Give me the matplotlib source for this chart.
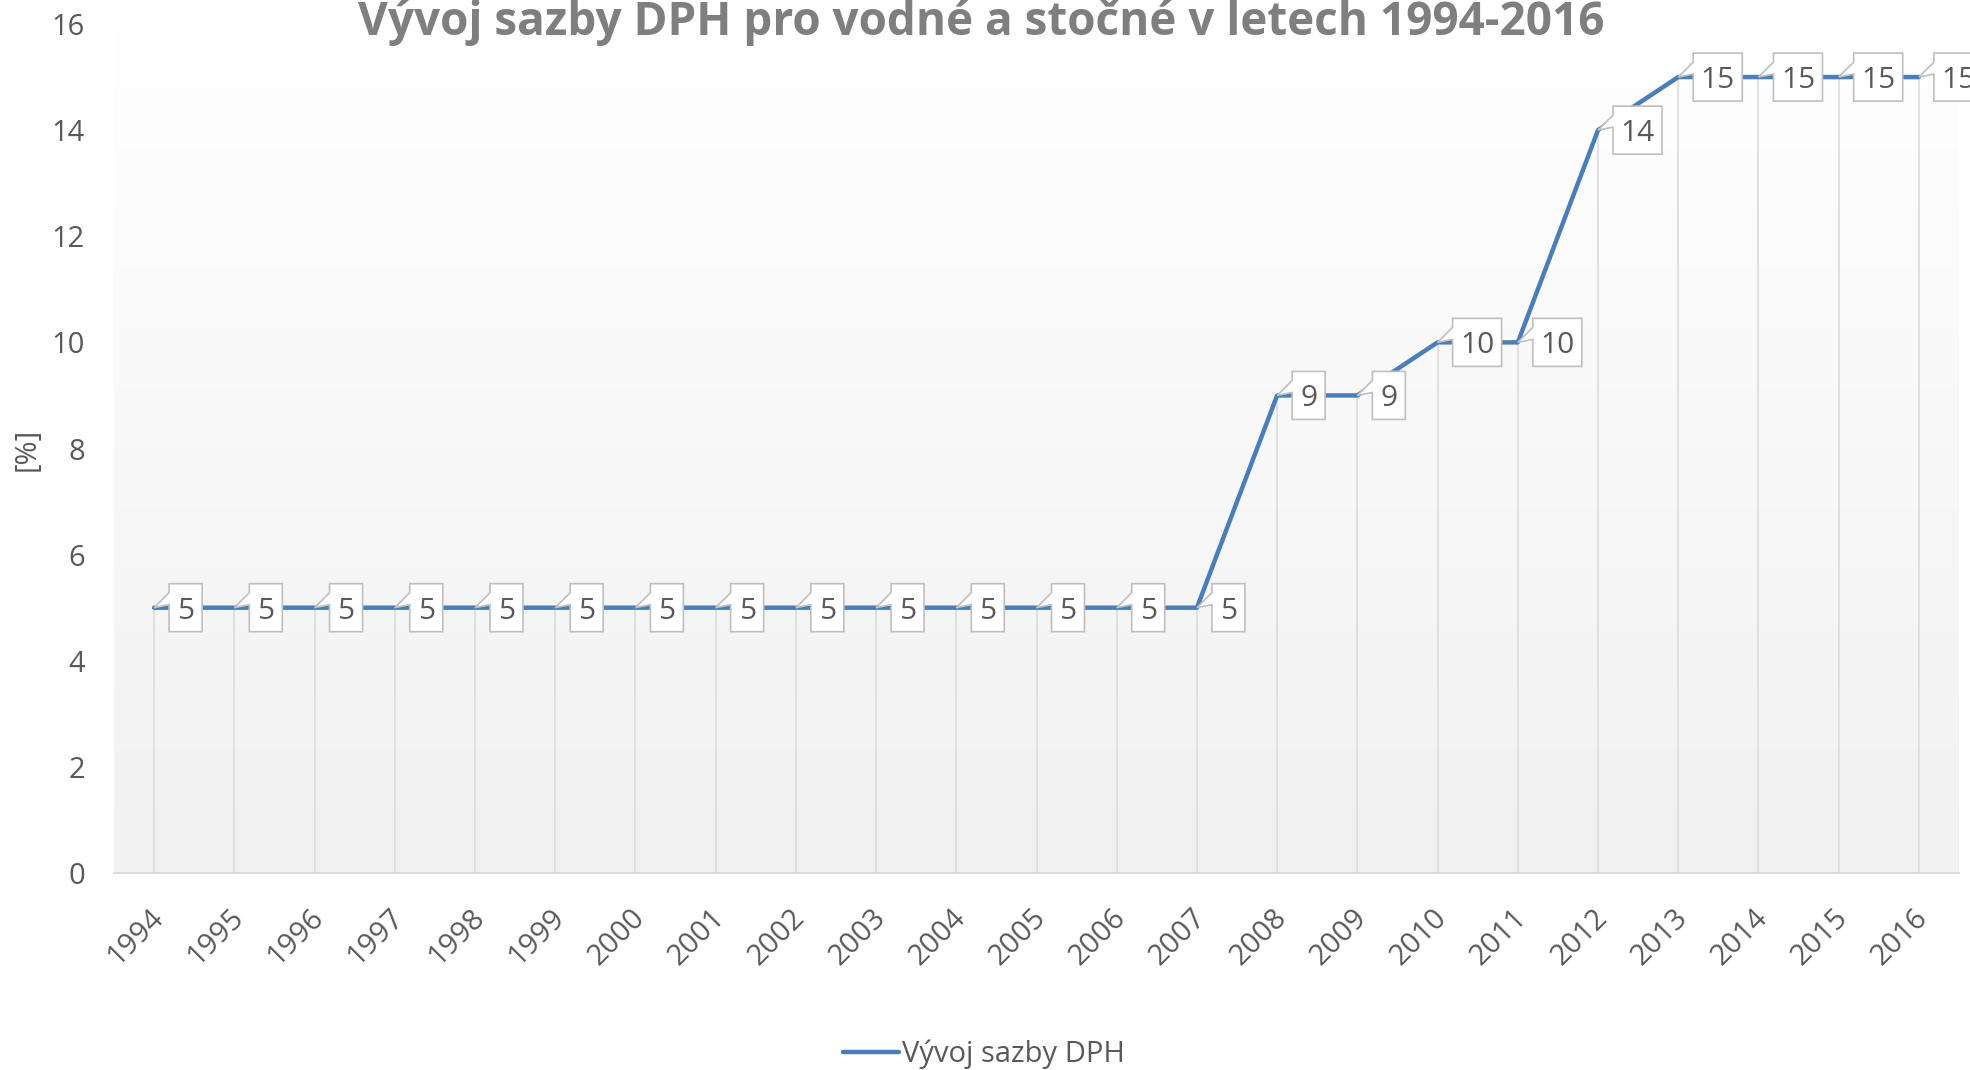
import matplotlib
matplotlib.use('Agg')
import matplotlib.pyplot as plt
import matplotlib.transforms as mtransforms
from matplotlib.patches import Polygon
from matplotlib.colors import LinearSegmentedColormap
import numpy as np

# ---- data ----
years = ['1994', '1995', '1996', '1997', '1998', '1999', '2000', '2001', '2002',
         '2003', '2004', '2005', '2006', '2007', '2008', '2009', '2010', '2011',
         '2012', '2013', '2014', '2015', '2016']
rates = [5, 5, 5, 5, 5, 5, 5, 5, 5, 5, 5, 5, 5, 5, 9, 9, 10, 10, 14, 15, 15, 15, 15]
yticks = [0, 2, 4, 6, 8, 10, 12, 14, 16]
title = 'Vývoj sazby DPH pro vodné a stočné v letech 1994-2016'
series_name = 'Vývoj sazby DPH'
ylabel = '[%]'

FONT = 'Open Sans'
TXT = '#595959'
LINE = '#4a7ebb'

W, H = 1970, 1070
fig = plt.figure(figsize=(W / 100, H / 100), dpi=100)
left, right, top, bottom = 114, 1959, 24, 873
ax = fig.add_axes([left / W, 1 - bottom / H, (right - left) / W, (bottom - top) / H])

x = np.arange(len(years))

# gradient background
cmap = LinearSegmentedColormap.from_list('bg', ['#ffffff', '#f1f1f1'])
ax.imshow(np.linspace(0, 1, 256).reshape(-1, 1), cmap=cmap, aspect='auto',
          extent=(-0.5, len(years) - 0.5, 0, 16), zorder=0, interpolation='bilinear')

# drop lines
ax.vlines(x, 0, rates, color='#d9d9d9', lw=1.1, zorder=1)

# series line
ax.plot(x, rates, color=LINE, lw=3.2, solid_capstyle='round', zorder=2, label=series_name)

ax.set_xlim(-0.5, len(years) - 0.5)
ax.set_ylim(0, 16)

# callout data labels
for xi, v in zip(x, rates):
    s = str(v)
    w = 17 + 16 * len(s)
    L = 15
    pts = np.array([(0, 0), (L, 3), (L, -24), (L + w, -24), (L + w, 24), (L, 24), (L, 15)]) / 100.0
    tr = fig.dpi_scale_trans + mtransforms.ScaledTranslation(xi, v, ax.transData)
    poly = Polygon(pts, closed=True, facecolor='white', edgecolor='#bfbfbf', lw=1.2,
                   transform=tr, zorder=4, clip_on=False)
    ax.add_patch(poly)
    ax.annotate(s, xy=(xi, v), xytext=((L + w / 2) * 0.72, 0), textcoords='offset points',
                ha='center', va='center_baseline', fontsize=21.5, family=FONT, color=TXT,
                zorder=5, annotation_clip=False)

# axes styling
for sp in ['left', 'right', 'top']:
    ax.spines[sp].set_visible(False)
ax.spines['bottom'].set_color('#d9d9d9')
ax.spines['bottom'].set_linewidth(1.3)
ax.set_yticks(yticks)
ax.set_yticklabels([str(t) for t in yticks], family=FONT, fontsize=21, color=TXT)
ax.tick_params(axis='y', length=0, pad=21)
ax.set_xticks(x)
ax.set_xticklabels(years, family=FONT, fontsize=21, color=TXT, rotation=45,
                   ha='right', va='center', rotation_mode='anchor')
ax.tick_params(axis='x', length=0, pad=29)
offset = mtransforms.ScaledTranslation(5 / 100, 0, fig.dpi_scale_trans)
for lab in ax.get_xticklabels():
    lab.set_transform(lab.get_transform() + offset)

ax.set_ylabel(ylabel, family=FONT, fontsize=21, color=TXT, va='center', ha='center')
ax.yaxis.set_label_coords((27 - left) / (right - left), (bottom - 449) / (bottom - top))

fig.text(981 / W, 1 - 35 / H, title, ha='center', va='baseline', family=FONT,
         fontweight='bold', fontsize=33, color='#7f7f7f')

leg = fig.legend(loc='center', bbox_to_anchor=(984 / W, 1 - 1054 / H), frameon=False,
                 prop={'family': FONT, 'size': 21}, handlelength=1.9, handletextpad=0.1,
                 labelcolor=TXT)

fig.savefig('out.png', dpi=100)
